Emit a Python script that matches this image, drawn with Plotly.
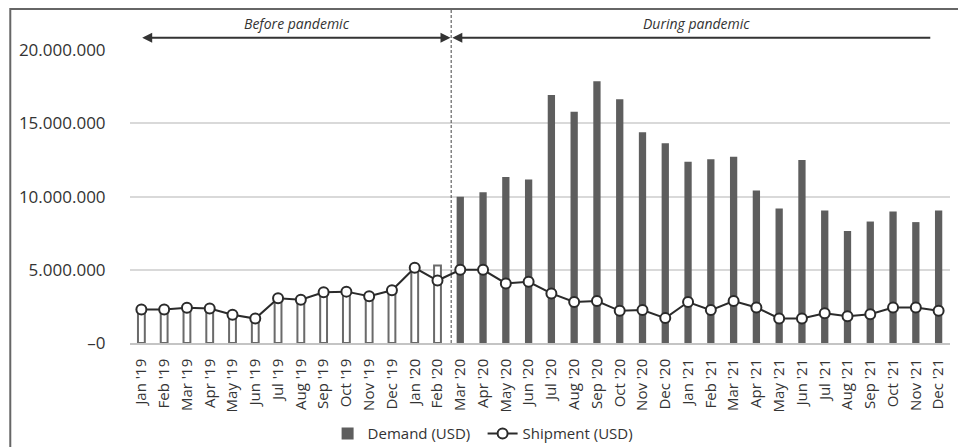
import plotly.graph_objects as go

months = ["Jan '19", "Feb '19", "Mar '19", "Apr '19", "May '19", "Jun '19",
          "Jul '19", "Aug '19", "Sep '19", "Oct '19", "Nov '19", "Dec '19",
          "Jan '20", "Feb '20", "Mar '20", "Apr '20", "May '20", "Jun '20",
          "Jul '20", "Aug '20", "Sep '20", "Oct '20", "Nov '20", "Dec '20",
          "Jan '21", "Feb '21", "Mar '21", "Apr '21", "May '21", "Jun '21",
          "Jul '21", "Aug '21", "Sep '21", "Oct '21", "Nov '21", "Dec '21"]

demand = [2300000, 2300000, 2400000, 2350000, 1950000, 1700000,
          3050000, 2950000, 3450000, 3500000, 3200000, 3600000,
          5100000, 5300000, 10000000, 10300000, 11350000, 11170000,
          16950000, 15800000, 17880000, 16650000, 14400000, 13650000,
          12380000, 12560000, 12720000, 10420000, 9190000, 12510000,
          9060000, 7650000, 8300000, 8990000, 8260000, 9060000]

shipment = [2290000, 2290000, 2410000, 2360000, 1930000, 1670000,
            3050000, 2960000, 3460000, 3510000, 3190000, 3600000,
            5140000, 4270000, 5000000, 5000000, 4070000, 4180000,
            3390000, 2800000, 2870000, 2200000, 2250000, 1700000,
            2800000, 2250000, 2870000, 2430000, 1680000, 1680000,
            2030000, 1820000, 1960000, 2430000, 2430000, 2200000]

n_before = 14  # Jan '19 .. Feb '20
y_ticks = [0, 5000000, 10000000, 15000000, 20000000]
y_ticktext = ["\u20130", "5.000.000", "10.000.000", "15.000.000", "20.000.000"]
period_labels = ["Before pandemic", "During pandemic"]

FONT = "Open Sans"
TXT = "#333333"
PLOT_W = 820.0
STEP = PLOT_W / 36.0

fig = go.Figure()

fig.add_trace(go.Bar(
    x=months[:n_before], y=demand[:n_before],
    marker=dict(color="white", line=dict(color="#6a6a6a", width=2)),
    width=0.3, showlegend=False, name="Demand (USD)",
))
fig.add_trace(go.Bar(
    x=months[n_before:], y=demand[n_before:],
    marker=dict(color="#5e5e5e", line=dict(width=0)),
    width=0.32, name="Demand (USD)",
))
fig.add_trace(go.Scatter(
    x=months, y=shipment, mode="lines+markers", name="Shipment (USD)",
    line=dict(color="#2b2b2b", width=2),
    marker=dict(symbol="circle", size=10, color="white",
                line=dict(color="#2b2b2b", width=2)),
))

fig.update_layout(
    width=958, height=447,
    margin=dict(l=130, r=8, t=50, b=104, autoexpand=False),
    paper_bgcolor="white", plot_bgcolor="white",
    barmode="overlay",
    font=dict(family=FONT, color=TXT),
    showlegend=True,
    legend=dict(orientation="h", x=0.43, xanchor="center", y=-0.31,
                yanchor="middle", font=dict(size=15, color=TXT),
                traceorder="normal", entrywidth=110),
    xaxis=dict(
        type="category", categoryorder="array", categoryarray=months,
        range=[-0.5, 35.5], tickangle=-90, tickfont=dict(size=15, color=TXT),
        showgrid=False, showline=True, linecolor="#c4c4c4", linewidth=1.5,
        ticks="outside", ticklen=8, tickcolor="rgba(0,0,0,0)",
    ),
    yaxis=dict(
        range=[0, 20020000], tickvals=y_ticks, ticktext=y_ticktext,
        tickfont=dict(size=17, color=TXT),
        showgrid=True, gridcolor="#d9d9d9", gridwidth=1.5,
        zeroline=False, showline=False,
        ticks="outside", ticklen=20, tickcolor="rgba(0,0,0,0)",
    ),
)

# outer frame
fig.add_shape(type="rect", xref="paper", yref="paper",
              x0=-0.146, x1=1.03, y0=-0.4, y1=1.14,
              line=dict(color="#666666", width=2), fillcolor="rgba(0,0,0,0)",
              layer="below")

# dashed divider between Feb '20 and Mar '20
fig.add_shape(type="line", xref="x", yref="paper",
              x0=13.6, x1=13.6, y0=0, y1=1.137,
              line=dict(color="#444444", width=1, dash="3px,2px"))

# period arrows
arrow_y = 1.042
fig.add_annotation(x=13.57, y=arrow_y, ax=-(13.57 + 0.03) * STEP, ay=0,
                   xref="x", yref="paper", axref="pixel", ayref="pixel", text="",
                   showarrow=True, arrowhead=2, startarrowhead=2,
                   arrowside="end+start", arrowsize=1, startarrowsize=1,
                   arrowwidth=2, arrowcolor="#333333", standoff=0, startstandoff=0)
fig.add_annotation(x=13.65, y=arrow_y, ax=(34.7 - 13.65) * STEP, ay=0,
                   xref="x", yref="paper", axref="pixel", ayref="pixel", text="",
                   showarrow=True, arrowhead=2, arrowside="end", arrowsize=1,
                   arrowwidth=2, arrowcolor="#333333", standoff=0)

fig.add_annotation(x=6.81, y=1.05, xref="x", yref="paper", yanchor="bottom",
                   text="<i>" + period_labels[0] + "</i>", showarrow=False,
                   font=dict(size=14, color=TXT))
fig.add_annotation(x=24.39, y=1.05, xref="x", yref="paper", yanchor="bottom",
                   text="<i>" + period_labels[1] + "</i>", showarrow=False,
                   font=dict(size=14, color=TXT))

fig.write_html("out.html", config={"displayModeBar": False},
               post_script="document.body.style.margin='0';")
